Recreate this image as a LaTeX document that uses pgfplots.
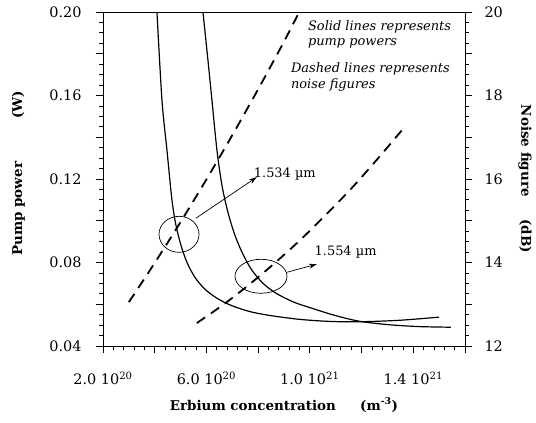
\documentclass[border=0pt]{standalone}
\usepackage{pgfplots}
\pgfplotsset{compat=1.18}
\usepackage{fontspec}
\setmainfont{DejaVu Serif}
\usetikzlibrary{arrows.meta}

\pgfplotsset{
  common/.style={
    scale only axis, width=362bp, height=334bp,
    xmin=2, xmax=16,
    tick align=outside,
    major tick length=7bp, minor tick length=4bp,
    tick style={line width=0.8bp, black},
    ticklabel style={font=\fontsize{14.5}{16}\selectfont},
    label style={font=\fontsize{13.5}{16}\selectfont\bfseries},
    /pgf/number format/assume math mode=true,
  },
}

\begin{document}
\begin{tikzpicture}
% pump power (left axis), solid lines
\begin{axis}[common, name=ax,
    ymin=0.04, ymax=0.2,
    axis line style={line width=0.9bp},
    xtick={2,4,6,8,10,12,14,16},
    xticklabels={2.0 10\textsuperscript{20},,6.0 10\textsuperscript{20},,1.0 10\textsuperscript{21},,1.4 10\textsuperscript{21},},
    minor x tick num=4,
    ytick={0.04,0.06,0.08,0.10,0.12,0.14,0.16,0.18,0.20},
    yticklabels={0.04,,0.08,,0.12,,0.16,,0.20},
    minor y tick num=3,
    xtick pos=bottom, ytick pos=left,
    xticklabel style={yshift=-15bp},
    yticklabel style={xshift=-11bp},
    xlabel={Erbium concentration\hspace{1.8em}(m\textsuperscript{-3})},
    ylabel={Pump power\hspace{3.2em}(W)},
    xlabel style={at={(axis description cs:0.5,-0.177)}, anchor=center},
    ylabel style={at={(axis description cs:-0.234,0.517)}, anchor=center},
  ]
  % 1.534 um
  \addplot[black, line width=1.2bp, smooth] coordinates {
    (4.087,0.2000) (4.280,0.1578) (4.473,0.1339) (4.667,0.1099) (4.821,0.0979)
    (5.014,0.0883) (5.246,0.0801) (5.555,0.0729) (5.942,0.0672) (6.406,0.0629)
    (6.947,0.0595) (7.643,0.0566) (8.416,0.0547) (9.575,0.0528) (10.734,0.0518)
    (11.894,0.0516) (13.440,0.0523) (14.986,0.0538)};
  % 1.554 um
  \addplot[black, line width=1.2bp, smooth] coordinates {
    (5.865,0.2000) (6.058,0.1770) (6.213,0.1578) (6.406,0.1339) (6.599,0.1171)
    (6.831,0.1041) (7.101,0.0931) (7.411,0.0840) (7.759,0.0763) (8.184,0.0701)
    (8.686,0.0653) (9.382,0.0610) (10.077,0.0581) (10.928,0.0548) (11.894,0.0519)
    (13.053,0.0502) (14.213,0.0493) (15.449,0.0490)};

  \draw[line width=0.7bp] (axis cs:4.94,0.0935) ellipse (20bp and 18bp);
  \draw[line width=0.7bp] (axis cs:8.11,0.0734) ellipse (26bp and 17bp);
  \draw[line width=0.7bp, -{Stealth[length=8bp,width=5bp]}]
    (axis cs:5.59,0.1012) -- (axis cs:7.95,0.1209);
  \draw[line width=0.7bp, -{Stealth[length=8bp,width=5bp]}]
    (axis cs:9.11,0.0753) -- (axis cs:10.27,0.0792);
  \node[anchor=west, font=\fontsize{13}{15}\selectfont] at (axis cs:7.7,0.1225) {1.534 µm};
  \node[anchor=west, font=\fontsize{13}{15}\selectfont] at (axis cs:10.05,0.0849) {1.554 µm};

  \node[anchor=north west, align=left, font=\fontsize{13}{16}\selectfont\itshape, inner sep=0pt]
    at (rel axis cs:0.566,0.976) {Solid lines represents\\pump powers};
  \node[anchor=north west, align=left, font=\fontsize{13}{16}\selectfont\itshape, inner sep=0pt]
    at (rel axis cs:0.519,0.850) {Dashed lines represents\\noise figures};
\end{axis}

% noise figure (right axis), dashed lines
\begin{axis}[common,
    axis x line=none, axis y line*=right,
    axis line style={line width=0.9bp},
    ymin=12, ymax=20,
    ytick={12,13,14,15,16,17,18,19,20},
    yticklabels={12,,14,,16,,18,,20},
    minor y tick num=3,
    yticklabel style={xshift=9bp},
    ylabel={Noise figure\hspace{1.7em}(dB)},
    ylabel style={at={(axis description cs:1.166,0.5)}, anchor=center, rotate=180},
  ]
  \addplot[black, line width=1.8bp, dash pattern=on 10bp off 7bp, smooth] coordinates {
    (3.00,13.05) (4.00,13.99) (5.00,14.97) (6.00,15.99) (7.00,17.05)
    (8.00,18.15) (9.00,19.29) (9.57,19.98)};
  \addplot[black, line width=1.8bp, dash pattern=on 10bp off 7bp, smooth] coordinates {
    (5.63,12.55) (6.63,12.98) (7.63,13.46) (8.63,13.98) (9.63,14.54)
    (10.63,15.15) (11.63,15.79) (12.63,16.49) (13.63,17.22)};
\end{axis}

\path[use as bounding box] ([xshift=-103bp,yshift=-77bp]ax.south west)
  rectangle ([xshift=71bp,yshift=12bp]ax.north east);
\end{tikzpicture}
\end{document}
